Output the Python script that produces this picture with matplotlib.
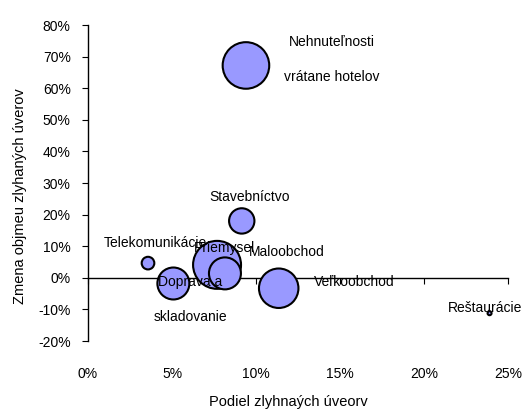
import matplotlib.pyplot as plt
from matplotlib.ticker import PercentFormatter

plt.rcParams['font.family'] = ['Liberation Sans', 'DejaVu Sans']
plt.rcParams['axes.unicode_minus'] = False

# Data
sectors = ['Nehnuteľnosti\nvrátane hotelov', 'Stavebníctvo', 'Telekomunikácie', 'Priemysel',
           'Maloobchod', 'Doprava a\nskladovanie', 'Veľkoobchod', 'Reštaurácie']
share = [9.4, 9.15, 3.57, 7.68, 8.15, 5.08, 11.35, 23.9]       # Podiel zlyhaných úverov (%)
change = [67.2, 18.0, 4.65, 4.1, 1.4, -1.8, -3.3, -11.2]        # Zmena objemu (%)
volume = [543, 161, 40, 576, 256, 256, 390, 4]                  # bubble size (relative)

# label positions (data coords)
label_x = [14.5, 9.64, 4.02, 8.15, 11.85, 6.07, 15.83, 23.64]
label_y = [69.0, 25.7, 11.0, 9.5, 8.3, -7.0, -1.2, -9.4]

fig = plt.figure(figsize=(5.23, 4.12), dpi=100)
ax = fig.add_axes([0.1683, 0.1723, 0.8031, 0.7670])

sizes = [v * 2.07 for v in volume]
ax.scatter(share, change, s=sizes, color='#9999FF', edgecolor='black', linewidth=1.5, zorder=3)

for name, lx, ly in zip(sectors, label_x, label_y):
    ax.text(lx, ly, name, ha='center', va='center', fontsize=10, linespacing=2.9, zorder=4)

ax.set_xlim(0, 25)
ax.set_ylim(-20, 80)
ax.set_xticks([0, 5, 10, 15, 20, 25])
ax.set_yticks(range(-20, 81, 10))
ax.xaxis.set_major_formatter(PercentFormatter(decimals=0))
ax.yaxis.set_major_formatter(PercentFormatter(decimals=0))

ax.spines['top'].set_visible(False)
ax.spines['right'].set_visible(False)
ax.spines['bottom'].set_position(('data', 0))
ax.spines['bottom'].set_linewidth(1)
ax.spines['left'].set_linewidth(1)

ax.tick_params(axis='x', direction='out', length=4, pad=60, labelsize=10)
ax.tick_params(axis='y', direction='out', length=4.5, pad=8, labelsize=10)

ax.set_xlabel('Podiel zlyhnaých úveorv', fontsize=10.5)
ax.set_ylabel('Zmena objmeu zlyhaných úverov', fontsize=10.5)
ax.xaxis.set_label_coords(0.476, -0.171)
ax.yaxis.set_label_coords(-0.145, 0.46)

plt.savefig('out.png', dpi=100)
